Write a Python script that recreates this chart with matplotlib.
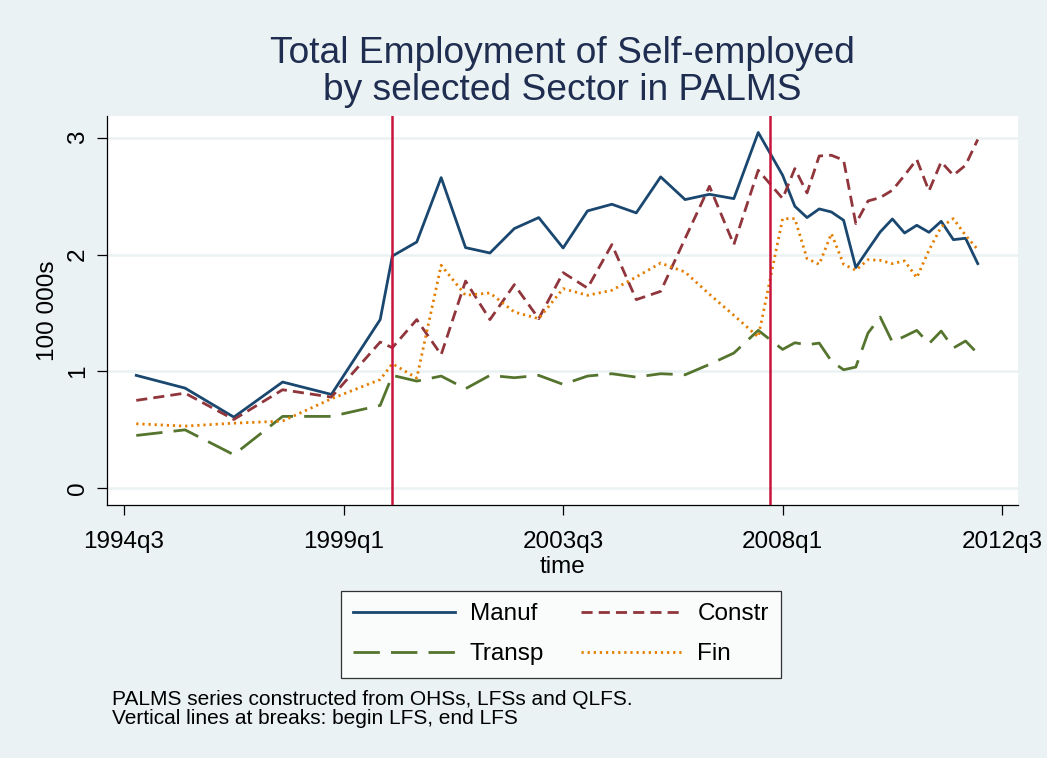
import matplotlib
matplotlib.use('Agg')
import matplotlib.pyplot as plt

plt.rcParams.update({
    "font.family": ["Liberation Sans", "DejaVu Sans"],
    "font.size": 17.5,
})

# quarters of the observations (OHS yearly, LFS twice a year, QLFS quarterly)
quarters = ["1994q4", "1995q4", "1996q4", "1997q4", "1998q4", "1999q4",
            "2000q1", "2000q3", "2001q1", "2001q3", "2002q1", "2002q3",
            "2003q1", "2003q3", "2004q1", "2004q3", "2005q1", "2005q3",
            "2006q1", "2006q3", "2007q1", "2007q3",
            "2008q1", "2008q2", "2008q3", "2008q4", "2009q1", "2009q2",
            "2009q3", "2009q4", "2010q1", "2010q2", "2010q3", "2010q4",
            "2011q1", "2011q2", "2011q3", "2011q4", "2012q1"]

# self-employed, 100 000s
manuf = [0.966, 0.857, 0.609, 0.909, 0.803, 1.443,
         1.987, 2.107, 2.658, 2.059, 2.013, 2.222, 2.316, 2.056, 2.373, 2.430,
         2.356, 2.664, 2.470, 2.515, 2.478, 3.044,
         2.678, 2.413, 2.316, 2.390, 2.364, 2.293, 1.888, 2.042, 2.193, 2.304,
         2.184, 2.250, 2.190, 2.284, 2.127, 2.139, 1.922]
constr = [0.752, 0.814, 0.589, 0.843, 0.780, 1.251,
          1.203, 1.443, 1.143, 1.773, 1.443, 1.742, 1.451, 1.845, 1.713, 2.085,
          1.614, 1.685, 2.136, 2.584, 2.085, 2.721,
          2.479, 2.735, 2.527, 2.843, 2.849, 2.807, 2.265, 2.458, 2.487, 2.550,
          2.678, 2.813, 2.544, 2.792, 2.678, 2.764, 2.984]
transp = [0.452, 0.500, 0.287, 0.615, 0.615, 0.709,
          0.966, 0.917, 0.960, 0.852, 0.966, 0.946, 0.966, 0.889, 0.960, 0.980,
          0.951, 0.980, 0.971, 1.060, 1.157, 1.351,
          1.188, 1.245, 1.228, 1.242, 1.088, 1.014, 1.037, 1.328, 1.465, 1.251,
          1.300, 1.351, 1.237, 1.345, 1.200, 1.260, 1.152]
fin = [0.552, 0.532, 0.557, 0.575, 0.766, 0.930,
       1.066, 0.943, 1.908, 1.651, 1.671, 1.508, 1.451, 1.708, 1.651, 1.694,
       1.808, 1.927, 1.850, 1.660, 1.480, 1.294,
       2.307, 2.307, 1.965, 1.916, 2.179, 1.916, 1.865, 1.956, 1.950, 1.922,
       1.945, 1.802, 2.036, 2.236, 2.307, 2.164, 2.042]

tick_quarters = ["1994q3", "1999q1", "2003q3", "2008q1", "2012q3"]
break_quarters = ["2000q1", "2007q4"]


def tq(s):
    # Stata-style quarterly index, 1960q1 = 0
    y, q = s.split("q")
    return (int(y) - 1960) * 4 + int(q) - 1


x = [tq(s) for s in quarters]

bg = "#EAF2F3"
fig = plt.figure(figsize=(10.47, 7.58), dpi=100, facecolor=bg)
ax = fig.add_axes([107 / 1047, 1 - 505 / 758, (1018 - 107) / 1047, (505 - 116) / 758])
ax.set_facecolor("white")

# grid
for g in [0, 1, 2, 3]:
    ax.axhline(g, color=bg, linewidth=1.8, zorder=1)

lw = 2.0
l1, = ax.plot(x, manuf, color="#1A476F", lw=lw, ls="-", label="Manuf", zorder=3)
l2, = ax.plot(x, constr, color="#90353B", lw=lw, ls=(0, (4, 2.2)), label="Constr", zorder=3)
l3, = ax.plot(x, transp, color="#55752F", lw=lw, ls=(0, (9.5, 4)), label="Transp", zorder=3)
l4, = ax.plot(x, fin, color="#E37E00", lw=lw, ls=(0, (0.8, 1.4)), label="Fin", zorder=3)

for b in break_quarters:
    ax.axvline(tq(b), color="#C8143C", lw=1.8, zorder=4)

ax.set_xlim(136.6, 211.3)
ax.set_ylim(-0.143, 3.185)

ax.set_xticks([tq(s) for s in tick_quarters])
ax.set_xticklabels(tick_quarters)
ax.set_yticks([0, 1, 2, 3])
ax.set_yticklabels(["0", "1", "2", "3"], rotation=90, va="center")

ax.spines["top"].set_visible(False)
ax.spines["right"].set_visible(False)
ax.spines["left"].set_linewidth(0.9)
ax.spines["bottom"].set_linewidth(0.9)
ax.tick_params(axis="both", direction="out", length=7, width=0.9)
ax.tick_params(axis="x", pad=12)
ax.tick_params(axis="y", pad=6)

ax.set_xlabel("time", labelpad=2)
ax.set_ylabel("100 000s", labelpad=6)

fig.text(562.5 / 1047, 1 - 72 / 758, "Total Employment of Self-employed\nby selected Sector in PALMS",
         ha="center", va="center", fontsize=26.7, color="#1F2D50", linespacing=1.1)

leg = fig.legend(handles=[l1, l3, l2, l4], ncol=2, loc="upper center",
                 bbox_to_anchor=(561 / 1047, 1 - 591 / 758), frameon=True, fancybox=False,
                 edgecolor="black", facecolor="white", handlelength=4.2, handletextpad=0.6,
                 columnspacing=1.5, labelspacing=0.75, borderpad=0.5, borderaxespad=0)
leg.get_frame().set_linewidth(0.9)

fig.text(112 / 1047, 1 - 709 / 758, "PALMS series constructed from OHSs, LFSs and QLFS.\n"
         "Vertical lines at breaks: begin LFS, end LFS", ha="left", va="center",
         fontsize=15, linespacing=0.95)

fig.savefig("out.png", dpi=100, facecolor=bg)
